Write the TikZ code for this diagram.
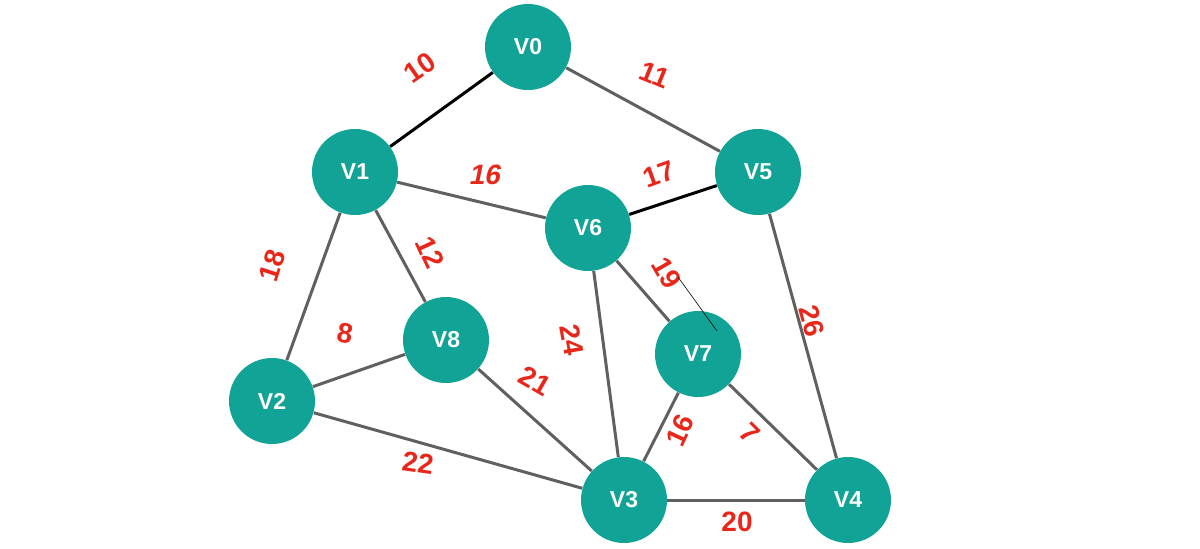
\documentclass[tikz,border=0pt]{standalone}
\usepackage{fontspec}
\setmainfont{Liberation Sans}
\definecolor{teal}{HTML}{12A397}
\definecolor{edgegray}{HTML}{606060}
\definecolor{wred}{HTML}{E8261A}

\begin{document}
\begin{tikzpicture}[
	x=0.5pt, y=-0.5pt,
	vertex/.style={circle, fill=teal, minimum size=43pt, inner sep=0pt,
		text=white, font=\fontsize{11.5}{13}\selectfont\bfseries\upshape},
	wt/.style={text=wred, font=\fontsize{14}{16}\selectfont\bfseries\upshape, inner sep=0pt},
	road/.style={draw=edgegray, line width=1.5pt},
	chosen/.style={draw=black, line width=1.5pt}]
\useasboundingbox (0,0) rectangle (1200,548);
% vertices
\node[vertex] (v0) at (528,47)  {V0};
\node[vertex] (v1) at (355,172) {V1};
\node[vertex] (v5) at (758,172) {V5};
\node[vertex] (v6) at (588,228) {V6};
\node[vertex] (v8) at (446,340) {V8};
\node[vertex] (v7) at (698,354) {V7};
\node[vertex] (v2) at (272,401) {V2};
\node[vertex] (v3) at (624,500) {V3};
\node[vertex] (v4) at (848,500) {V4};
% edges
\path[chosen] (v1) -- (v0);
\path[road] (v0) -- (v5);
\path[road] (v1) -- (v6);
\path[chosen] (v6) -- (v5);
\path[road] (v1) -- (v2);
\path[road] (v1) -- (v8);
\path[road] (v2) -- (v8);
\path[road] (v2) -- (v3);
\path[road] (v8) -- (v3);
\path[road] (v6) -- (v3);
\path[road] (v6) -- (v7);
\path[road] (v7) -- (v3);
\path[road] (v7) -- (v4);
\path[road] (v5) -- (v4);
\path[road] (v3) -- (v4);
% weights
\node[wt, rotate=35]  (w10) at (420,68)  {10};
\node[wt, rotate=-22] (w11) at (655,75)  {11};
\node[wt, xslant=0.2] (w16) at (486,175) {16};
\node[wt, rotate=20]  (w17) at (659,174) {17};
\node[wt, rotate=72]  (w18) at (272,266) {18};
\node[wt, rotate=-65] (w12) at (430,252) {12};
\node[wt, rotate=-10] (w8)  at (345,333) {8};
\node[wt, rotate=-30] (w21) at (535,381) {21};
\node[wt, rotate=-80] (w24) at (572,340) {24};
\node[wt, rotate=-60] (w19) at (667,273) {19};
\node[wt, rotate=-75] (w26) at (812,321) {26};
\node[wt, rotate=65]  (w16b) at (680,430) {16};
\node[wt, rotate=-45] (w7)  at (750,433) {7};
\node[wt, rotate=-8]  (w22) at (418,463) {22};
\node[wt]             (w20) at (737,522) {20};
% stray stroke
\coordinate (s1) at (678,277);
\coordinate (s2) at (717,331);
\draw[black, line width=0.3pt] (s1) -- (s2);
\end{tikzpicture}
\end{document}
